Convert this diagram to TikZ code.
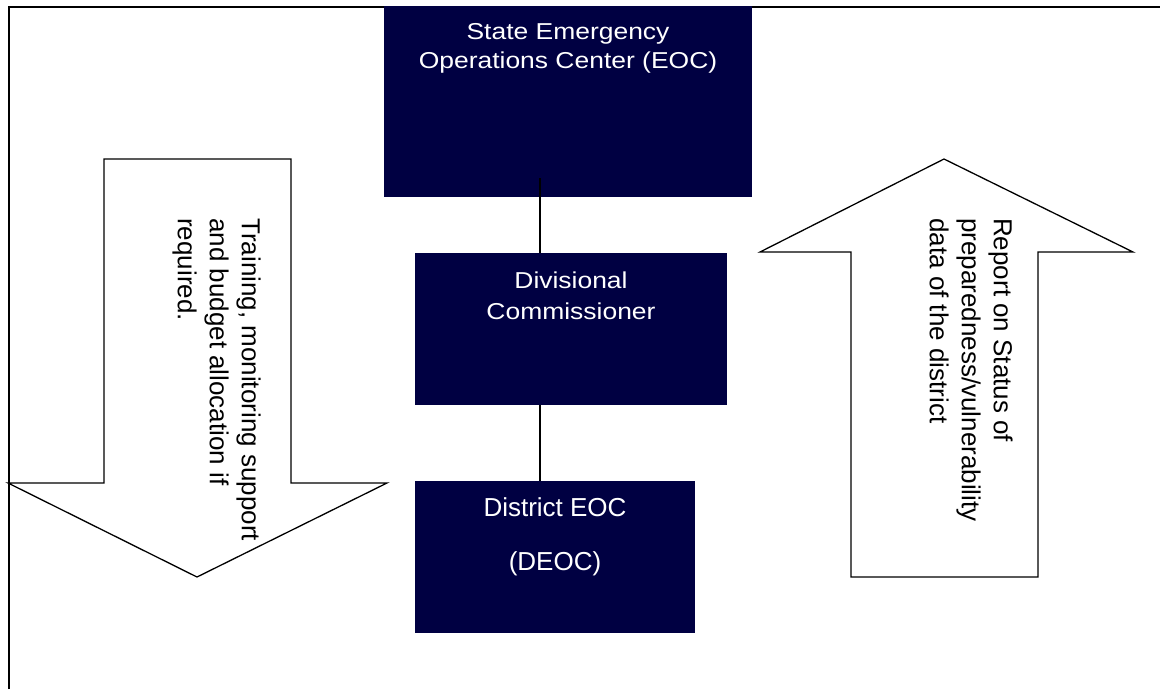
\documentclass[tikz,border=0pt]{standalone}
\usepackage{fontspec}
\setmainfont{Liberation Sans}
\definecolor{navy}{RGB}{0,0,66}
\begin{document}
\begin{tikzpicture}[x=1pt,y=-1pt,
  boxshape/.style={draw=none,fill=navy,inner sep=0,outer sep=0},
  boxtxt/.style={text=white,inner sep=0,anchor=base,font=\fontsize{26}{28}\selectfont},
  boxtxtb/.style={text=white,inner sep=0,anchor=base,font=\fontsize{23}{28}\selectfont,xscale=1.15},
  bigarrow/.style={draw=black,line width=1.3pt,fill=white,line join=miter},
  arrtxt/.style={rotate=-90,anchor=north west,inner sep=0,align=left,font=\fontsize{26}{32}\selectfont},
  conn/.style={draw=black,line width=2pt},
  frame/.style={draw=black,line width=2pt}]
\useasboundingbox (0,0) rectangle (1160,689);
% frame (top and left edges)
\coordinate (fa) at (9,689);
\coordinate (fb) at (9,7);
\coordinate (fc) at (1160,7);
\draw[frame] (fa) -- (fb) -- (fc);
% left down arrow
\draw[bigarrow] (104,159) -- (291,159) -- (291,483) -- (387,483) -- (197,577) -- (8,483) -- (104,483) -- cycle;
\node[arrtxt] (ltxt) at (261,218) {Training, monitoring support\\and budget allocation if\\required.};
% right up arrow
\draw[bigarrow] (851,577) -- (851,252) -- (760,252) -- (944,159) -- (1133,252) -- (1038,252) -- (1038,577) -- cycle;
\node[arrtxt] (rtxt) at (1013,218) {Report on Status of\\preparedness/vulnerability\\data of the district};
% boxes
\node[boxshape,minimum width=368,minimum height=191] (seoc) at (568,101.5) {};
\node[boxshape,minimum width=312,minimum height=152] (div) at (571,329) {};
\node[boxshape,minimum width=280,minimum height=152] (deoc) at (555,557) {};
% box texts
\node[boxtxtb] (seoc1) at (568,39) {State Emergency};
\node[boxtxtb] (seoc2) at (568,68) {Operations Center (EOC)};
\node[boxtxtb] (div1) at (571,288) {Divisional};
\node[boxtxtb] (div2) at (571,319) {Commissioner};
\node[boxtxt] (deoc1) at (555,516) {District EOC};
\node[boxtxt] (deoc2) at (555,570) {(DEOC)};
% connectors
\coordinate (c1) at (540,178);
\draw[conn] (c1) -- (c1 |- div.north);
\draw[conn] (c1 |- div.south) -- (c1 |- deoc.north);
\end{tikzpicture}
\end{document}
